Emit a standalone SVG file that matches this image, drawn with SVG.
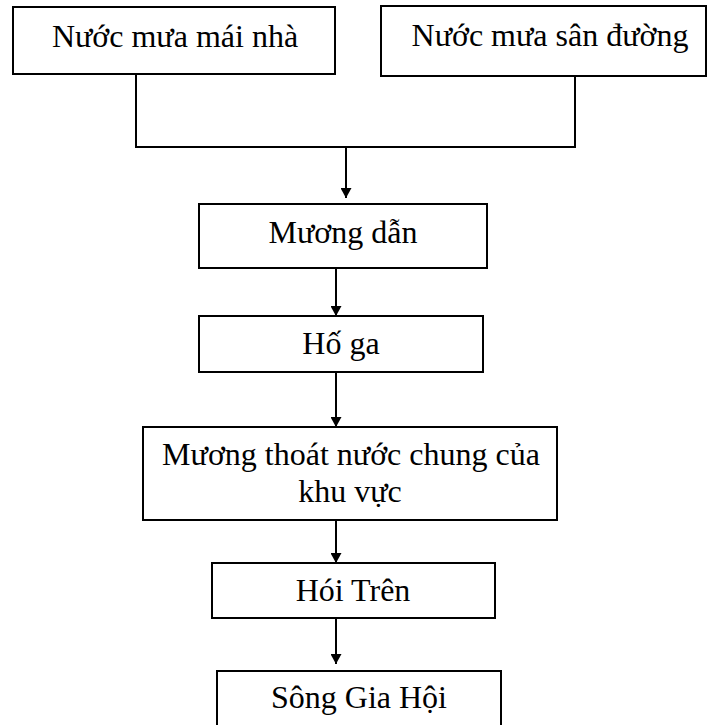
<svg xmlns="http://www.w3.org/2000/svg" width="707" height="725" viewBox="0 0 707 725">
<defs>
<style>
.box{fill:#fff;stroke:#000;stroke-width:2}
.t{font-family:"Liberation Serif","Times New Roman",serif;font-size:32px;fill:#000;text-anchor:middle}
.c{fill:none;stroke:#000;stroke-width:2}
</style>
<marker id="ah" markerUnits="userSpaceOnUse" markerWidth="10" markerHeight="11" refX="10" refY="5.5" orient="auto" viewBox="0 0 10 11">
<path d="M0,0 L10,5.5 L0,11 Z" fill="#000"/>
</marker>
</defs>
<rect width="707" height="725" fill="#fff"/>
<g id="connectors">
<polyline class="c" points="136,74 136,147 575,147 575,76"/>
<line class="c" x1="346" y1="147" x2="346" y2="198" marker-end="url(#ah)"/>
<line class="c" x1="336" y1="268" x2="336" y2="316" marker-end="url(#ah)"/>
<line class="c" x1="336" y1="372" x2="336" y2="427" marker-end="url(#ah)"/>
<line class="c" x1="336" y1="520" x2="336" y2="563" marker-end="url(#ah)"/>
<line class="c" x1="336" y1="617" x2="336" y2="664" marker-end="url(#ah)"/>
</g>
<g id="n1"><rect class="box" x="13" y="7" width="322" height="67"/><text class="t" x="175" y="47">Nước mưa mái nhà</text></g>
<g id="n2"><rect class="box" x="381" y="6" width="325" height="70"/><text class="t" x="550" y="46">Nước mưa sân đường</text></g>
<g id="n3"><rect class="box" x="199" y="204" width="288" height="64"/><text class="t" x="343" y="243">Mương dẫn</text></g>
<g id="n4"><rect class="box" x="199" y="316" width="284" height="56"/><text class="t" x="341" y="354">Hố ga</text></g>
<g id="n5"><rect class="box" x="143" y="427" width="414" height="93"/><text class="t" x="351" y="465">Mương thoát nước chung của</text><text class="t" x="350" y="502">khu vực</text></g>
<g id="n6"><rect class="box" x="212" y="563" width="283" height="55"/><text class="t" x="353" y="601">Hói Trên</text></g>
<g id="n7"><rect class="box" x="217" y="671" width="284" height="70"/><text class="t" x="359" y="708">Sông Gia Hội</text></g>
</svg>
